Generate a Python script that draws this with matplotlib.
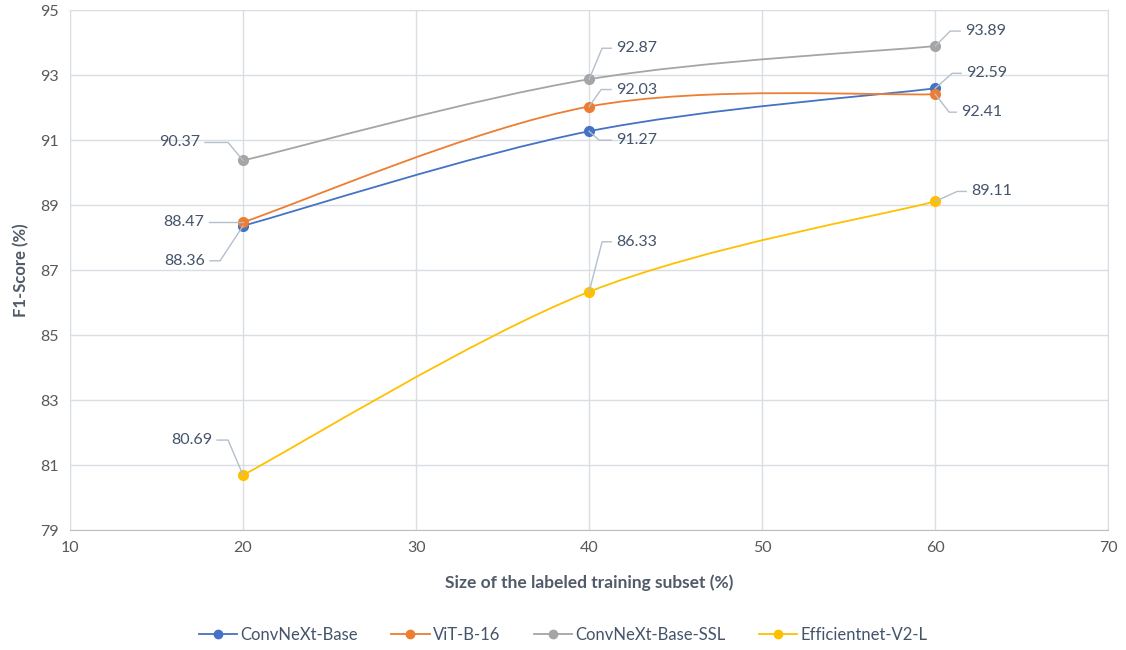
import matplotlib.pyplot as plt
from matplotlib.path import Path
from matplotlib.patches import PathPatch
from matplotlib.lines import Line2D
from matplotlib.transforms import IdentityTransform

plt.rcParams['font.family'] = ['Lato', 'DejaVu Sans']

# Data
subset_sizes = [20, 40, 60]
convnext_base = [88.36, 91.27, 92.59]
vit_b16 = [88.47, 92.03, 92.41]
convnext_ssl = [90.37, 92.87, 93.89]
effnet_v2l = [80.69, 86.33, 89.11]

series_names = ['ConvNeXt-Base', 'ViT-B-16', 'ConvNeXt-Base-SSL', 'Efficientnet-V2-L']
series_values = [convnext_base, vit_b16, convnext_ssl, effnet_v2l]
colors = ['#4472C4', '#ED7D31', '#A5A5A5', '#FFC000']

# label leader geometry in pixels: (elbow dx, elbow dy, horizontal end dx)
leaders = [
    [(-23, -35, -33), (10, -9, 22), (17, 15, 26)],
    [(-3, 0, -34), (12, 17, 22), (14, -18, 21)],
    [(-15, 18, -38), (13, 31, 22), (15, 15, 25)],
    [(-15, 35, -26), (13, 50, 22), (22, 10, 31)],
]

text_color = '#44546A'
leader_color = '#B4BFCC'
grid_color = '#D9DEE5'


def excel_smooth_path(xs, ys):
    # cubic bezier through the points, control points like Excel's smoothed line
    pts = list(zip(xs, ys))
    n = len(pts)
    verts = [pts[0]]
    codes = [Path.MOVETO]
    for i in range(n - 1):
        p0 = pts[i - 1] if i > 0 else pts[i]
        p1 = pts[i]
        p2 = pts[i + 1]
        p3 = pts[i + 2] if i + 2 < n else pts[i + 1]
        c1 = (p1[0] + (p2[0] - p0[0]) / 6, p1[1] + (p2[1] - p0[1]) / 6)
        c2 = (p2[0] - (p3[0] - p1[0]) / 6, p2[1] - (p3[1] - p1[1]) / 6)
        verts += [c1, c2, p2]
        codes += [Path.CURVE4] * 3
    return Path(verts, codes)


fig = plt.figure(figsize=(11.26, 6.5), dpi=100)
ax = fig.add_axes([0.0622, 0.1846, 0.922, 0.8])

ax.set_xlim(10, 70)
ax.set_ylim(79, 95)
ax.set_xticks(range(10, 71, 10))
ax.set_yticks(range(79, 96, 2))
ax.grid(True, color=grid_color, linewidth=1)
ax.set_axisbelow(True)
ax.tick_params(length=0, labelsize=11.5, labelcolor='#595959', pad=8)
for side in ['top', 'right', 'left']:
    ax.spines[side].set_color(grid_color)
ax.spines['bottom'].set_color('#BFBFBF')

for name, vals, col in zip(series_names, series_values, colors):
    patch = PathPatch(excel_smooth_path(subset_sizes, vals), facecolor='none',
                      edgecolor=col, linewidth=1.3, zorder=3)
    ax.add_patch(patch)
    ax.plot(subset_sizes, vals, 'o', color=col, markersize=7, zorder=4)

fig.canvas.draw()
for vals, lead in zip(series_values, leaders):
    for x, y, (ex, ey, hx) in zip(subset_sizes, vals, lead):
        px, py = ax.transData.transform((x, y))
        line = Line2D([px, px + ex, px + hx], [py, py + ey, py + ey],
                      color=leader_color, linewidth=1, transform=IdentityTransform(),
                      zorder=2)
        fig.add_artist(line)
        gap = 5 if hx > 0 else -5
        ax.annotate(f'{y:.2f}', xy=(x, y), xytext=(hx + gap, ey),
                    textcoords='offset pixels', ha='left' if hx > 0 else 'right',
                    va='center', fontsize=11.5, color=text_color, zorder=5)

ax.set_xlabel('Size of the labeled training subset (%)', fontsize=12.5,
              fontweight='bold', color='#505a68', labelpad=14)
ax.set_ylabel('F1-Score (%)', fontsize=12, fontweight='bold', color='#505a68',
              labelpad=8)

handles = [Line2D([0], [0], color=c, marker='o', markersize=6, linewidth=1.3)
           for c in colors]
fig.legend(handles, series_names, loc='center', bbox_to_anchor=(0.5, 0.023), ncol=4,
           frameon=False, fontsize=12, handlelength=2.3, handletextpad=0.2,
           columnspacing=2.0, labelcolor=text_color)

fig.savefig('out.png', dpi=100)
